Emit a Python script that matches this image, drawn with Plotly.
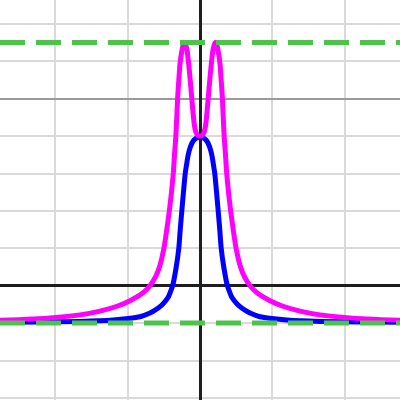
import plotly.graph_objects as go

# Values (x in vertical-grid units, y in horizontal-grid units)
blue_x = [-2.80, -2.207, -1.655, -1.196, -0.990, -0.828, -0.690, -0.620, -0.552, -0.495,
          -0.437, -0.400, -0.377, -0.328,
          -0.292, -0.273, -0.251, -0.228, -0.203, -0.186, -0.166, -0.138, -0.110, -0.083,
          -0.041, 0.0,
          0.041, 0.083, 0.110, 0.138, 0.166, 0.186, 0.203, 0.228, 0.251, 0.273,
          0.292, 0.328, 0.377, 0.400, 0.437, 0.495, 0.552, 0.620, 0.690, 0.828, 0.990,
          1.196, 1.655, 2.207, 2.80]
blue_y = [-0.975, -0.970, -0.955, -0.917, -0.878, -0.829, -0.730, -0.655, -0.561, -0.450,
          -0.302, -0.125, 0.0, 0.500,
          1.008, 1.489, 1.997, 2.505, 3.013, 3.227, 3.468, 3.682, 3.816, 3.896,
          3.955, 3.976,
          3.955, 3.896, 3.816, 3.682, 3.468, 3.227, 3.013, 2.505, 1.997, 1.489,
          1.008, 0.500, 0.0, -0.125, -0.302, -0.450, -0.561, -0.655, -0.730, -0.829, -0.878,
          -0.917, -0.955, -0.970, -0.975]

magenta_x = [-2.80, -2.069, -1.655, -1.379, -1.145, -0.966, -0.786, -0.690, -0.614, -0.559,
             -0.497, -0.459, -0.423, -0.393, -0.368, -0.352, -0.334, -0.321, -0.308, -0.292,
             -0.276, -0.255, -0.234, -0.207, -0.179, -0.152, -0.124, -0.097, -0.076, -0.055,
             -0.028, 0.0,
             0.028, 0.055, 0.076, 0.097, 0.124, 0.152, 0.179, 0.207, 0.234, 0.255,
             0.276, 0.292, 0.308, 0.321, 0.334, 0.352, 0.368, 0.393, 0.423, 0.459,
             0.497, 0.559, 0.614, 0.690, 0.786, 0.966, 1.145, 1.379, 1.655, 2.069, 2.80]
magenta_y = [-0.930, -0.860, -0.780, -0.680, -0.550, -0.400, -0.190, 0.0, 0.233, 0.500,
             1.008, 1.489, 1.997, 2.505, 3.013, 3.495, 3.976, 4.484, 5.045, 5.500,
             5.928, 6.222, 6.422, 6.503, 6.302, 5.848, 5.259, 4.644, 4.270, 4.096,
             4.020, 4.000,
             4.020, 4.096, 4.270, 4.644, 5.259, 5.848, 6.302, 6.503, 6.422, 6.222,
             5.928, 5.500, 5.045, 4.484, 3.976, 3.495, 3.013, 2.505, 1.997, 1.489,
             1.008, 0.500, 0.233, 0.0, -0.190, -0.400, -0.550, -0.680, -0.780, -0.860, -0.930]

asymptote_levels = [6.5, -1.0]

x_range = [-2.759, 2.759]
y_range = [-3.056, 7.639]

fig = go.Figure()
fig.add_trace(go.Scatter(x=blue_x, y=blue_y, mode="lines",
                         line=dict(color="#0000ff", width=5, shape="spline", smoothing=0.6),
                         hoverinfo="skip"))
fig.add_trace(go.Scatter(x=magenta_x, y=magenta_y, mode="lines",
                         line=dict(color="#ff00ff", width=5, shape="spline", smoothing=0.6),
                         hoverinfo="skip"))
for lvl in asymptote_levels:
    fig.add_trace(go.Scatter(x=x_range, y=[lvl, lvl], mode="lines",
                             line=dict(color="#4cc44a", width=5, dash="25px,11px"),
                             hoverinfo="skip"))

fig.update_layout(
    width=400, height=400,
    margin=dict(l=0, r=0, t=0, b=0),
    paper_bgcolor="white", plot_bgcolor="white",
    showlegend=False,
)
fig.update_xaxes(range=x_range, dtick=1, tick0=0, showgrid=True, gridcolor="#dadada",
                 gridwidth=1.5, zeroline=True, zerolinecolor="#1e1e1e", zerolinewidth=2.5,
                 showticklabels=False, ticks="", showline=False, fixedrange=True)
fig.update_yaxes(range=y_range, dtick=5, tick0=0, showgrid=True, gridcolor="#9a9a9a",
                 gridwidth=2,
                 minor=dict(dtick=1, tick0=0, showgrid=True, gridcolor="#dadada", gridwidth=1.5),
                 zeroline=True, zerolinecolor="#1e1e1e", zerolinewidth=2.5,
                 showticklabels=False, ticks="", showline=False, fixedrange=True)

fig.write_html("out.html", config={"displayModeBar": False},
               post_script="document.body.style.margin='0';document.body.style.overflow='hidden';")
